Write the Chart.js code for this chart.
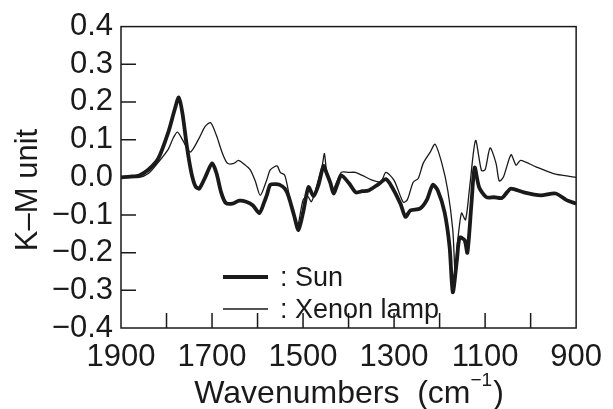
<!DOCTYPE html>
<html lang="en">
<head>
    <meta charset="UTF-8">
    <title>K-M spectra</title>
    <script src="https://cdn.jsdelivr.net/npm/chart.js"></script>
    <style>
        html, body { margin: 0; padding: 0; background: #fff; }
        #wrap { width: 613px; height: 409px; }
    </style>
</head>
<body>
    <div id="wrap"><canvas id="myChart"></canvas></div>

<script>
    // wavenumbers (cm-1) and K-M values
    var sunWn = [1900, 1880, 1860, 1840, 1818, 1796, 1782, 1773, 1765, 1755, 1745, 1736, 1728, 1715, 1700, 1690, 1680, 1670,
        1655, 1640, 1625, 1610, 1596, 1585, 1579, 1572, 1560, 1551, 1540, 1532, 1520, 1510, 1499, 1488, 1477, 1466, 1455,
        1448, 1440, 1433, 1425, 1416, 1399, 1384, 1370, 1356, 1334, 1318, 1305, 1286, 1275, 1264, 1243, 1228, 1215, 1204,
        1189, 1178, 1171, 1162, 1156, 1145, 1139, 1130, 1123, 1113, 1097, 1080, 1063, 1052, 1043, 1015, 978, 945, 922, 900]
    var sunKM = [0.000, 0.002, 0.005, 0.020, 0.050, 0.120, 0.180, 0.212, 0.170, 0.080, 0.010, -0.025, -0.030, 0.000, 0.037, 0.010, -0.040, -0.068,
        -0.070, -0.062, -0.065, -0.075, -0.095, -0.065, -0.045, -0.020, -0.018, -0.020, -0.030, -0.050, -0.100, -0.140, -0.088, -0.026, -0.050, -0.020, 0.030,
        0.010, -0.015, -0.043, -0.020, 0.005, -0.016, -0.040, -0.037, -0.035, -0.018, -0.005, -0.025, -0.070, -0.105, -0.088, -0.083, -0.060, -0.020, -0.035,
        -0.093, -0.185, -0.305, -0.220, -0.160, -0.167, -0.200, -0.070, 0.026, -0.027, -0.053, -0.053, -0.055, -0.040, -0.030, -0.040, -0.048, -0.043, -0.060, -0.070]

    var xenonWn = [1900, 1860, 1840, 1818, 1796, 1785, 1776, 1765, 1748, 1730, 1715, 1703, 1690, 1677, 1666, 1652, 1642, 1630, 1616,
        1605, 1594, 1580, 1572, 1557, 1550, 1540, 1530, 1520, 1512, 1500, 1490, 1482, 1475, 1465, 1458, 1453, 1448, 1434, 1416,
        1400, 1385, 1370, 1347, 1329, 1318, 1300, 1280, 1271, 1258, 1247, 1236, 1221, 1210, 1195, 1182, 1171, 1166, 1162, 1152,
        1143, 1134, 1121, 1108, 1100, 1089, 1076, 1069, 1060, 1043, 1032, 1022, 987, 950, 928, 900]
    var xenonKM = [0.000, 0.000, 0.010, 0.040, 0.075, 0.105, 0.120, 0.100, 0.067, 0.100, 0.135, 0.145, 0.110, 0.063, 0.037, 0.037, 0.045, 0.035, 0.020,
        -0.010, -0.048, -0.008, 0.020, 0.030, 0.013, 0.005, -0.050, -0.100, -0.130, -0.060, -0.050, -0.065, -0.045, 0.000, 0.030, 0.063, 0.015, -0.030, 0.013,
        0.013, 0.013, 0.005, -0.008, -0.012, 0.013, -0.008, -0.066, -0.060, -0.013, -0.003, 0.037, 0.066, 0.088, 0.037, -0.035, -0.140, -0.250, -0.190, -0.095,
        -0.113, -0.027, 0.098, 0.018, 0.020, 0.078, 0.037, -0.010, 0.000, 0.060, 0.032, 0.045, 0.027, 0.010, 0.005, 0.000]

    var seriesNames = ['Sun', 'Xenon lamp']
    var xTickLabels = [1900, 1700, 1500, 1300, 1100, 900]

    function pontos(wn, km) {
        var out = []
        for (var i = 0; i < wn.length; i++) out.push({ x: wn[i], y: km[i] })
        return out
    }

    const fonte = '"Liberation Sans", Arial, sans-serif'
    const cor = '#1a1a1a'

    // box, inward ticks, legend and axis titles
    const moldura = {
        id: 'moldura',
        afterDraw(chart) {
            const ctx = chart.ctx
            const a = chart.chartArea
            const xs = chart.scales.x
            const ys = chart.scales.y
            ctx.save()
            ctx.strokeStyle = cor
            ctx.lineWidth = 1.5
            ctx.strokeRect(a.left, a.top, a.right - a.left, a.bottom - a.top)

            ctx.beginPath()
            for (var w = 1800; w >= 1000; w -= 100) {
                var px = xs.getPixelForValue(w)
                ctx.moveTo(px, a.bottom)
                ctx.lineTo(px, a.bottom - 15)
            }
            for (var k = -3; k <= 3; k++) {
                var py = ys.getPixelForValue(k / 10)
                ctx.moveTo(a.left, py)
                ctx.lineTo(a.left + 15, py)
            }
            ctx.stroke()

            // legend
            ctx.fillStyle = cor
            ctx.font = '27px ' + fonte
            ctx.textBaseline = 'alphabetic'
            ctx.textAlign = 'left'
            ctx.lineWidth = 3.8
            ctx.beginPath(); ctx.moveTo(223, 277); ctx.lineTo(268, 277); ctx.stroke()
            ctx.fillText(': ' + seriesNames[0], 280, 286)
            ctx.lineWidth = 1.3
            ctx.beginPath(); ctx.moveTo(223, 309); ctx.lineTo(268, 309); ctx.stroke()
            ctx.fillText(': ' + seriesNames[1], 280, 318)

            // x title with superscript
            var t1 = 'Wavenumbers  (cm', t2 = '\u22121', t3 = ')'
            ctx.font = '32px ' + fonte
            var w1 = ctx.measureText(t1).width, w3 = ctx.measureText(t3).width
            ctx.font = '19px ' + fonte
            var w2 = ctx.measureText(t2).width
            var x0 = (a.left + a.right) / 2 - (w1 + w2 + w3) / 2
            ctx.font = '32px ' + fonte
            ctx.fillText(t1, x0, 403)
            ctx.fillText(t3, x0 + w1 + w2 + 1, 403)
            ctx.font = '19px ' + fonte
            ctx.fillText(t2, x0 + w1, 386)

            // y title
            ctx.font = '31px ' + fonte
            ctx.translate(37, 190)
            ctx.rotate(-Math.PI / 2)
            ctx.textAlign = 'center'
            ctx.fillText('K\u2013M unit', 0, 0)
            ctx.restore()
        }
    }

    const config = {
        type: 'line',
        data: {
            datasets: [{
                label: seriesNames[0],
                data: pontos(sunWn, sunKM),
                borderColor: cor,
                borderWidth: 3.8,
                pointRadius: 0,
                tension: 0.25
            }, {
                label: seriesNames[1],
                data: pontos(xenonWn, xenonKM),
                borderColor: cor,
                borderWidth: 1.3,
                pointRadius: 0,
                tension: 0.25
            }]
        },
        options: {
            responsive: true,
            maintainAspectRatio: false,
            animation: false,
            layout: { padding: { left: 0, top: 26, right: 30, bottom: 0 } },
            plugins: { legend: { display: false }, tooltip: { enabled: false } },
            scales: {
                x: {
                    type: 'linear',
                    reverse: true,
                    min: 900,
                    max: 1900,
                    grid: { display: false, drawTicks: false },
                    border: { display: false },
                    afterFit: function (s) { s.height = 81 },
                    ticks: {
                        stepSize: 100,
                        autoSkip: false,
                        maxRotation: 0,
                        padding: 11,
                        color: cor,
                        font: { family: fonte, size: 31 },
                        callback: function (v) { return xTickLabels.indexOf(v) >= 0 ? String(v) : '' }
                    }
                },
                y: {
                    min: -0.4,
                    max: 0.4,
                    grid: { display: false, drawTicks: false },
                    border: { display: false },
                    afterFit: function (s) { s.width = 121 },
                    ticks: {
                        stepSize: 0.1,
                        autoSkip: false,
                        padding: 8,
                        color: cor,
                        font: { family: fonte, size: 31 },
                        callback: function (v) {
                            var r = Math.round(v * 10) / 10
                            return r < 0 ? '\u2212' + Math.abs(r).toFixed(1) : r.toFixed(1)
                        }
                    }
                }
            }
        },
        plugins: [moldura]
    }

    const myChart = new Chart(document.getElementById('myChart'), config)
</script>
</body>
</html>
